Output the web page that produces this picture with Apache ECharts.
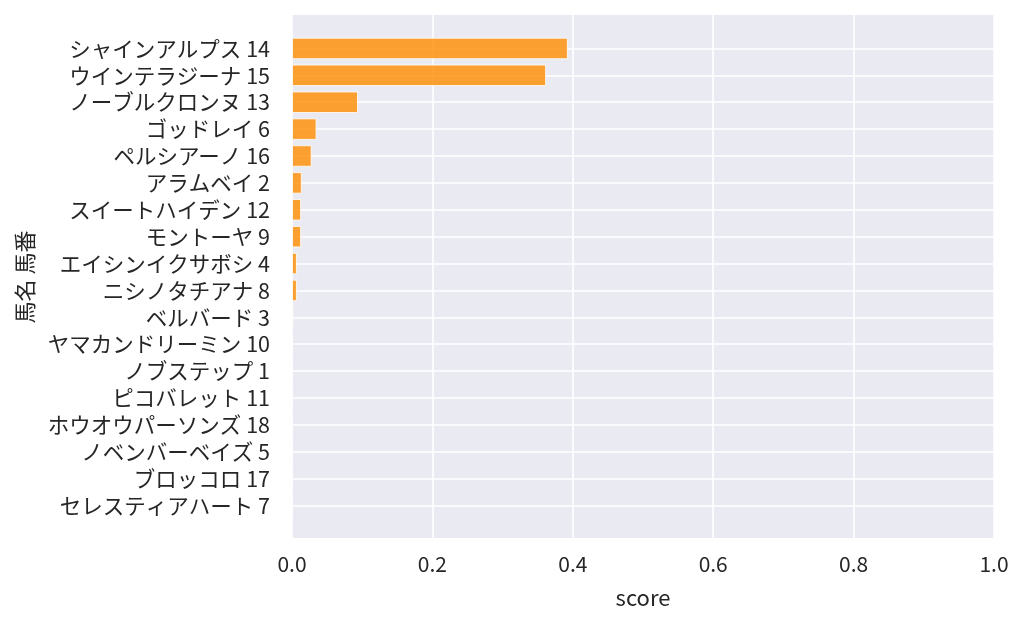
<!DOCTYPE html>
<html>
<head>
<meta charset="utf-8">
<script src="https://cdn.jsdelivr.net/npm/echarts@6/dist/echarts.min.js"></script>
<style>html,body{margin:0;padding:0;background:#fff;}#c{width:1024px;height:627px;}</style>
</head>
<body>
<div id="c"></div>
<script>
const categories = [
  'シャインアルプス 14','ウインテラジーナ 15','ノーブルクロンヌ 13','ゴッドレイ 6',
  'ペルシアーノ 16','アラムベイ 2','スイートハイデン 12','モントーヤ 9',
  'エイシンイクサボシ 4','ニシノタチアナ 8','ベルバード 3','ヤマカンドリーミン 10',
  'ノブステップ 1','ピコバレット 11','ホウオウパーソンズ 18','ノベンバーベイズ 5',
  'ブロッコロ 17','セレスティアハート 7'
];
const scores = [
  0.393, 0.362, 0.094, 0.035,
  0.028, 0.014, 0.013, 0.013,
  0.007, 0.007, 0.002, 0.001,
  0.0003, 0.0002, 0.0001, 0.0001,
  0.0001, 0.0001
];
const xTicks = [0, 0.2, 0.4, 0.6, 0.8, 1.0];

const FONT = '"Noto Sans CJK JP", "Noto Sans", sans-serif';
const TXT = '#262626';

const chart = echarts.init(document.getElementById('c'), null, {renderer: 'canvas'});
chart.setOption({
  animation: false,
  backgroundColor: '#ffffff',
  textStyle: {fontFamily: FONT},
  grid: [
    {left: 292, right: 30, top: 15, bottom: 89, show: true, backgroundColor: '#EAEAF2', borderWidth: 0},
    {left: 292, right: 30, top: 35, bottom: 108, show: false}
  ],
  xAxis: [
    {
      gridIndex: 0, type: 'value', min: 0, max: 1, interval: 0.2,
      axisLine: {show: false}, axisTick: {show: false},
      splitLine: {show: true, lineStyle: {color: '#ffffff', width: 1.6}},
      axisLabel: {
        fontSize: 21, color: TXT, fontFamily: FONT, margin: 16,
        formatter: v => xTicks.includes(Math.round(v * 10) / 10) ? v.toFixed(1) : ''
      },
      name: 'score', nameLocation: 'middle', nameGap: 49,
      nameTextStyle: {fontSize: 22, color: TXT, fontFamily: FONT}
    },
    {
      gridIndex: 1, type: 'value', min: 0, max: 1, show: false
    }
  ],
  yAxis: [
    {gridIndex: 0, type: 'value', min: 0, max: 1, show: false},
    {
      gridIndex: 1, type: 'category', inverse: true, data: categories,
      axisLine: {show: false}, axisTick: {show: false}, splitLine: {show: false},
      axisLabel: {interval: 0, hideOverlap: false, fontSize: 21.5, color: TXT, fontFamily: FONT, margin: 22},
      name: '馬名 馬番', nameLocation: 'middle', nameGap: 256, nameRotate: 90,
      nameTextStyle: {fontSize: 22, color: TXT, fontFamily: FONT}
    }
  ],
  series: [
    {
      type: 'line', xAxisIndex: 1, yAxisIndex: 1, data: [], z: 1, silent: true,
      markLine: {
        z: 1, silent: true, symbol: ['none', 'none'], label: {show: false},
        lineStyle: {color: '#ffffff', width: 1.6, type: 'solid'},
        emphasis: {disabled: true},
        data: categories.map(c => ({yAxis: c}))
      }
    },
    {
      type: 'bar', xAxisIndex: 1, yAxisIndex: 1, data: scores, z: 3,
      barWidth: '80%',
      itemStyle: {color: 'rgba(255,140,0,0.8)', borderColor: 'rgba(255,255,255,0.8)', borderWidth: 1}
    }
  ]
});
</script>
</body>
</html>
